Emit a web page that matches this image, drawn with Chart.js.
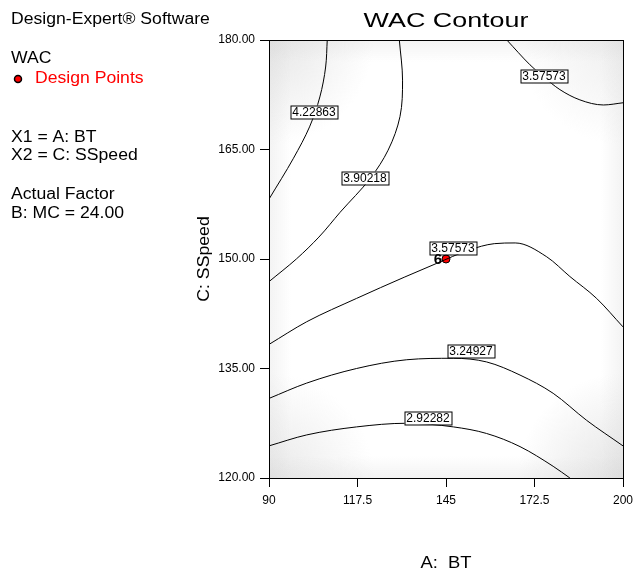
<!DOCTYPE html>
<html>
<head>
<meta charset="utf-8">
<title>WAC Contour</title>
<script src="https://cdn.jsdelivr.net/npm/chart.js@4.4.1/dist/chart.umd.min.js"></script>
<style>
  html, body { margin: 0; padding: 0; background: #fff; }
  #chart { display: block; }
</style>
</head>
<body>
<canvas id="chart" width="635" height="577"></canvas>
<script>
// axis ticks (A: BT on x, C: SSpeed on y)
const xTicks = [90, 117.5, 145, 172.5, 200];
const yTicks = [120, 135, 150, 165, 180];

// contour lines as [BT, SSpeed]
const c42286 = [[108.1, 180], [107.6, 176.3], [105.8, 172.2], [102.6, 168.1], [97.6, 163.8], [90, 158.2]];
const c39022 = [[130.5, 180], [131.5, 174.5], [130.7, 169.5], [127.0, 164.9], [121.4, 161.0], [112.1, 156.4], [105.5, 153.0], [98.5, 150.0], [90, 146.9]];
const c35757top = [[163.9, 180], [171.1, 176.6], [175.2, 175.0], [180.4, 173.2], [186.6, 171.8], [193.9, 171.1], [200, 171.4]];
const c35757mid = [[90, 138.3], [101.7, 141.4], [117.2, 144.6], [132, 147.5], [142.1, 149.4], [152, 151.2], [160, 152.1], [166.5, 152.2], [176.3, 150.3], [183.5, 147.6], [191.8, 144.6], [200, 140.7]];
const c32493 = [[90, 130.9], [101.7, 133.0], [117.2, 135.0], [132.8, 136.2], [147.3, 136.4], [157.6, 135.9], [168, 134.1], [178.3, 131.6], [188.7, 127.9], [200, 124.4]];
const c29228 = [[90, 124.4], [101.7, 125.9], [117.2, 127.0], [132.8, 127.5], [147.3, 127.0], [157.6, 126.1], [168, 124.3], [178.3, 121.6], [183.5, 120]];
const contours = [c42286, c39022, c35757top, c35757mid, c32493, c29228];
// which way each contour runs without doubling back
const contourAxis = ['y', 'y', 'x', 'x', 'x', 'x'];

// contour labels: text and where it sits
const labelText = ['4.22863', '3.90218', '3.57573', '3.57573', '3.24927', '2.92282'];
const labelX = [104.0, 119.8, 175.5, 147.3, 152.8, 139.3];
const labelY = [170.1, 161.1, 175.1, 151.5, 137.4, 128.2];

// design points
const designX = [145];
const designY = [150];
const designRuns = ['6'];

const FONT = 'Arial, "Liberation Sans", sans-serif';

function stretchText(ctx, text, x, y, size, sx, opts) {
  opts = opts || {};
  ctx.save();
  ctx.font = (opts.bold ? 'bold ' : '') + size + 'px ' + FONT;
  ctx.fillStyle = opts.color || '#000';
  ctx.textBaseline = 'middle';
  ctx.textAlign = opts.align || 'left';
  ctx.translate(x, y);
  if (opts.rotate) ctx.rotate(opts.rotate);
  ctx.scale(sx, 1);
  ctx.fillText(text, 0, 0);
  ctx.restore();
}

const shading = {
  id: 'shading',
  beforeDatasetsDraw(chart) {
    const { ctx, chartArea: a } = chart;
    ctx.save();
    ctx.beginPath();
    ctx.rect(a.left, a.top, a.width, a.height);
    ctx.clip();
    const corners = [[a.left, a.top, 0.5], [a.right, a.top, 0.35], [a.left, a.bottom, 0.45], [a.right, a.bottom, 0.55]];
    corners.forEach(([cx, cy, k]) => {
      const g = ctx.createRadialGradient(cx, cy, 0, cx, cy, 105);
      g.addColorStop(0, 'rgba(205,205,205,' + k + ')');
      g.addColorStop(1, 'rgba(205,205,205,0)');
      ctx.fillStyle = g;
      ctx.fillRect(a.left, a.top, a.width, a.height);
    });
    const edges = [
      [a.left, a.top, a.left, a.top + 22],
      [a.left, a.bottom, a.left, a.bottom - 22],
      [a.left, a.top, a.left + 22, a.top],
      [a.right, a.top, a.right - 22, a.top]
    ];
    edges.forEach(([x0, y0, x1, y1]) => {
      const g = ctx.createLinearGradient(x0, y0, x1, y1);
      g.addColorStop(0, 'rgba(215,215,215,0.3)');
      g.addColorStop(1, 'rgba(215,215,215,0)');
      ctx.fillStyle = g;
      ctx.fillRect(a.left, a.top, a.width, a.height);
    });
    ctx.restore();
  }
};

const overlay = {
  id: 'overlay',
  afterDatasetsDraw(chart) {
    const { ctx, chartArea: a, scales: { x, y } } = chart;
    // frame
    ctx.save();
    ctx.strokeStyle = '#000';
    ctx.lineWidth = 1;
    ctx.strokeRect(Math.round(a.left) + 0.5, Math.round(a.top) + 0.5, Math.round(a.width), Math.round(a.height));

    // contour labels
    ctx.font = '12px ' + FONT;
    ctx.textBaseline = 'middle';
    ctx.textAlign = 'center';
    labelText.forEach((t, i) => {
      const px = Math.round(x.getPixelForValue(labelX[i]));
      const py = Math.round(y.getPixelForValue(labelY[i]));
      const w = Math.round(ctx.measureText(t).width) + 4;
      const h = 13;
      ctx.fillStyle = '#fff';
      ctx.fillRect(px - w / 2, py - h / 2, w, h);
      ctx.strokeStyle = '#000';
      ctx.strokeRect(px - w / 2 + 0.5, py - h / 2 + 0.5, w, h);
      ctx.fillStyle = '#000';
      ctx.fillText(t, px, py + 0.5);
    });

    // run number next to the design point
    designRuns.forEach((r, i) => {
      const px = x.getPixelForValue(designX[i]);
      const py = y.getPixelForValue(designY[i]);
      stretchText(ctx, r, px - 4, py + 1, 15, 1, { bold: true, align: 'right' });
    });
    ctx.restore();
  },
  afterDraw(chart) {
    const { ctx, chartArea: a } = chart;
    ctx.save();
    stretchText(ctx, 'WAC Contour', (a.left + a.right) / 2, 21, 21, 1.28, { align: 'center' });
    stretchText(ctx, 'Design-Expert® Software', 11, 20, 16, 1.1);
    stretchText(ctx, 'WAC', 11, 59, 16, 1.1);
    stretchText(ctx, 'Design Points', 35, 79, 16, 1.1, { color: '#ff0000' });
    stretchText(ctx, 'X1 = A: BT', 11, 138, 16, 1.1);
    stretchText(ctx, 'X2 = C: SSpeed', 11, 156, 16, 1.1);
    stretchText(ctx, 'Actual Factor', 11, 195, 16, 1.1);
    stretchText(ctx, 'B: MC = 24.00', 11, 214, 16, 1.1);
    stretchText(ctx, 'A:  BT', (a.left + a.right) / 2, 564, 16, 1.15, { align: 'center' });
    stretchText(ctx, 'C: SSpeed', 204, (a.top + a.bottom) / 2, 17, 1.04, { align: 'center', rotate: -Math.PI / 2 });
    // legend marker
    ctx.beginPath();
    ctx.arc(18, 79, 3.5, 0, Math.PI * 2);
    ctx.fillStyle = '#ff0000';
    ctx.fill();
    ctx.lineWidth = 1.5;
    ctx.strokeStyle = '#000';
    ctx.stroke();
    ctx.restore();
  }
};

const datasets = contours.map((c, i) => ({
  data: c.map(p => ({ x: p[0], y: p[1] })),
  indexAxis: contourAxis[i],
  showLine: true,
  borderColor: '#000',
  borderWidth: 1,
  pointRadius: 0,
  cubicInterpolationMode: 'monotone',
  fill: false
}));
datasets.push({
  data: designX.map((v, i) => ({ x: v, y: designY[i] })),
  pointRadius: 4,
  pointBackgroundColor: '#ff0000',
  pointBorderColor: '#000',
  pointBorderWidth: 1,
  showLine: false
});

new Chart(document.getElementById('chart'), {
  type: 'scatter',
  data: { datasets },
  options: {
    responsive: false,
    animation: false,
    devicePixelRatio: 1,
    layout: { padding: { top: 40, right: 12, left: 0, bottom: 0 } },
    plugins: { legend: { display: false }, tooltip: { enabled: false }, title: { display: false } },
    scales: {
      x: {
        type: 'linear', min: 90, max: 200,
        afterBuildTicks: (s) => { s.ticks = xTicks.map(v => ({ value: v })); },
        afterFit: (s) => { s.height = 99; s.paddingLeft = 0; s.paddingRight = 0; },
        ticks: { color: '#000', font: { size: 12, family: FONT }, padding: 6, maxRotation: 0, callback: (v) => String(v) },
        grid: { drawOnChartArea: false, drawTicks: true, tickLength: 9, color: '#000' },
        border: { color: '#000', width: 1 }
      },
      y: {
        type: 'linear', min: 120, max: 180,
        afterBuildTicks: (s) => { s.ticks = yTicks.map(v => ({ value: v })); },
        afterFit: (s) => { s.width = 269; },
        ticks: { color: '#000', font: { size: 12, family: FONT }, padding: 5, callback: (v) => Number(v).toFixed(2) },
        grid: { drawOnChartArea: false, drawTicks: true, tickLength: 9, color: '#000' },
        border: { color: '#000', width: 1 }
      }
    }
  },
  plugins: [shading, overlay]
});
</script>
</body>
</html>
